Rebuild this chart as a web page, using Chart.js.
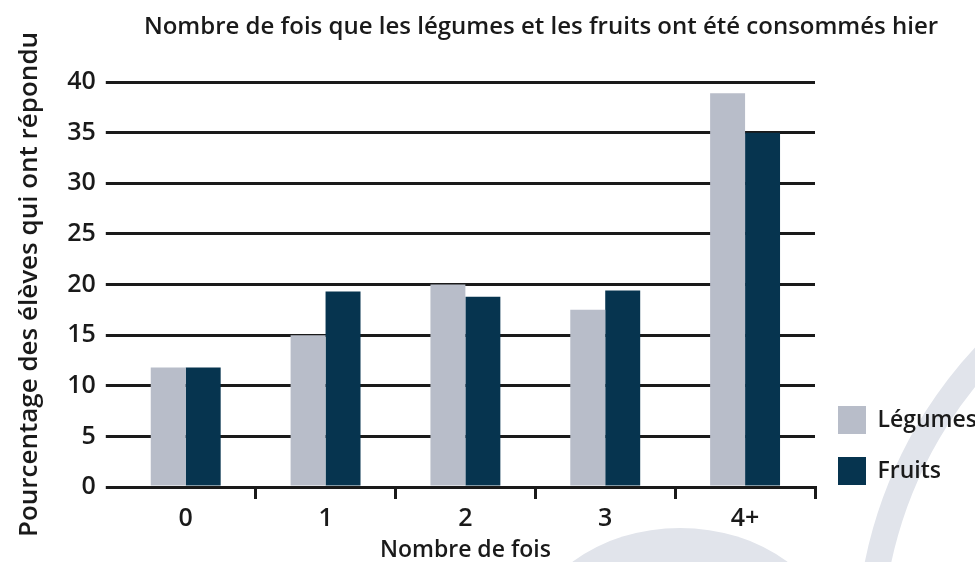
<!DOCTYPE html>
<html lang="fr">
<head>
    <meta charset="UTF-8">
    <title>Nombre de fois</title>
    <script src="https://cdn.jsdelivr.net/npm/chart.js"></script>
    <style>
        body { margin: 0; background: #fff; }
        canvas { display: block; }
    </style>
</head>
<body>
    <canvas id="fois" width="975" height="562"></canvas>

    <script>
        // données
        const categories = ['0', '1', '2', '3', '4+'];
        const legumes = [11.8, 15.0, 20.0, 17.5, 38.9];
        const fruits = [11.8, 19.3, 18.8, 19.4, 35.0];
        const yTicks = [0, 5, 10, 15, 20, 25, 30, 35, 40];

        const titre = 'Nombre de fois que les légumes et les fruits ont été consommés hier';
        const police = '"Open Sans", Lato, sans-serif';
        const encre = '#1a1a1a';

        // filigrane gris clair en bas à droite (décor du fond)
        const fondPlugin = {
            id: 'fondPlugin',
            beforeDraw(chart) {
                const ctx = chart.ctx;
                ctx.save();
                ctx.fillStyle = '#e1e4eb';
                ctx.beginPath();
                ctx.ellipse(680, 640, 150, 112, 0, Math.PI, 2 * Math.PI);
                ctx.fill();
                ctx.strokeStyle = '#e1e4eb';
                ctx.lineWidth = 26;
                ctx.beginPath();
                ctx.arc(1300, 650, 431, Math.PI * 1.0, Math.PI * 1.36);
                ctx.stroke();
                ctx.restore();
            }
        };

        // titre décalé vers la droite comme dans l'original
        const titrePlugin = {
            id: 'titrePlugin',
            afterDraw(chart) {
                const ctx = chart.ctx;
                ctx.save();
                ctx.font = '600 24px ' + police;
                ctx.fillStyle = encre;
                ctx.textAlign = 'center';
                ctx.textBaseline = 'middle';
                ctx.fillText(titre, 541, 27);
                ctx.restore();
            }
        };

        // la légende se termine au niveau de l'axe horizontal
        const legendePlugin = {
            id: 'legendePlugin',
            afterLayout(chart) {
                chart.legend.bottom = chart.chartArea.bottom + 21;
            }
        };

        const ctx = document.getElementById('fois').getContext('2d');
        new Chart(ctx, {
            type: 'bar',
            data: {
                labels: categories,
                datasets: [
                    {
                        label: 'Légumes',
                        data: legumes,
                        backgroundColor: '#b8bdc9',
                        categoryPercentage: 0.5,
                        barPercentage: 1.0
                    },
                    {
                        label: 'Fruits',
                        data: fruits,
                        backgroundColor: '#06344f',
                        categoryPercentage: 0.5,
                        barPercentage: 1.0
                    }
                ]
            },
            plugins: [fondPlugin, titrePlugin, legendePlugin],
            options: {
                responsive: false,
                animation: false,
                layout: { padding: { top: 82, left: 14, bottom: 0 } },
                plugins: {
                    title: { display: false },
                    tooltip: { enabled: false },
                    legend: {
                        position: 'right',
                        align: 'end',
                        maxWidth: 160,
                        labels: {
                            boxWidth: 28,
                            boxHeight: 28,
                            padding: 23,
                            color: encre,
                            font: { family: police, size: 23, weight: '600' }
                        }
                    }
                },
                scales: {
                    x: {
                        grid: {
                            offset: true,
                            drawOnChartArea: false,
                            tickLength: 12,
                            lineWidth: 3,
                            color: c => (c.index === 0 || c.index === categories.length) ? 'rgba(0,0,0,0)' : encre
                        },
                        border: { display: true, color: encre, width: 3 },
                        ticks: { color: encre, font: { family: police, size: 25, weight: '600' }, padding: 5 },
                        title: {
                            display: true,
                            text: 'Nombre de fois',
                            color: encre,
                            font: { family: police, size: 23, weight: '600', lineHeight: 1.0 },
                            padding: { top: 0, bottom: 0 }
                        }
                    },
                    y: {
                        min: 0,
                        max: 40,
                        afterBuildTicks: axis => { axis.ticks = yTicks.map(v => ({ value: v })); },
                        grid: { color: encre, lineWidth: 3, tickLength: 10 },
                        border: { display: false },
                        ticks: { color: encre, font: { family: police, size: 25, weight: '600' }, padding: 10 },
                        title: {
                            display: true,
                            text: 'Pourcentage des élèves qui ont répondu',
                            color: encre,
                            font: { family: police, size: 26, weight: '600' },
                            padding: { top: 0, bottom: 12 }
                        }
                    }
                }
            }
        });
    </script>
</body>
</html>
